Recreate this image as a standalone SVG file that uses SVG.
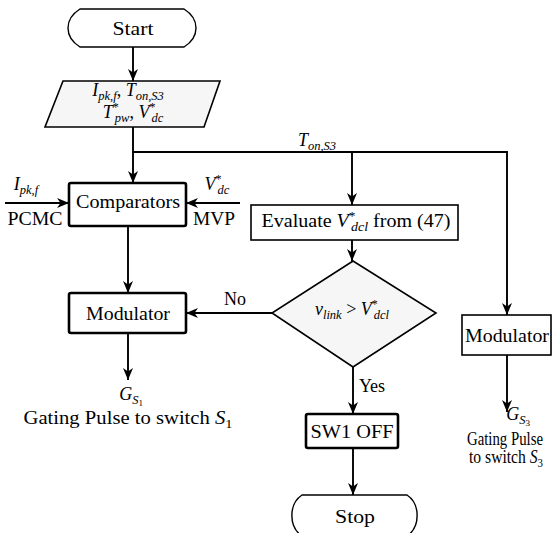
<svg xmlns="http://www.w3.org/2000/svg" width="552" height="533" viewBox="0 0 552 533">
<style>
text{font-family:'Liberation Serif',serif;font-size:18px;fill:#000;text-anchor:middle}
.i{font-style:italic}
.sub{font-size:12.5px;font-style:italic}
.sup{font-size:12px}
.thick{fill:#fff;stroke:#000;stroke-width:2.6}
.thin{fill:#fff;stroke:#000;stroke-width:1.6}
.gray{fill:#f6f6f6;stroke:#000;stroke-width:1.6}
.term{fill:#fff;stroke:#000;stroke-width:1.4}
.c{fill:none;stroke:#000;stroke-width:1.9}
</style>
<defs>
<marker id="arr" viewBox="0 0 12 10" refX="12" refY="5" markerWidth="12" markerHeight="10" markerUnits="userSpaceOnUse" orient="auto">
<path d="M0,0 L12,5 L0,10 L3.5,5 z" fill="#000"/>
</marker>
</defs>

<g id="connectors">
<line class="c" x1="133" y1="47" x2="133" y2="81" marker-end="url(#arr)"/>
<polyline class="c" points="133,127 133,152 507,152 507,315" marker-end="url(#arr)"/>
<line class="c" x1="133" y1="152" x2="133" y2="183" marker-end="url(#arr)"/>
<line class="c" x1="352" y1="152" x2="352" y2="205" marker-end="url(#arr)"/>
<line class="c" x1="5" y1="203" x2="69" y2="203" marker-end="url(#arr)"/>
<line class="c" x1="240" y1="203" x2="186" y2="203" marker-end="url(#arr)"/>
<line class="c" x1="128" y1="226" x2="128" y2="293" marker-end="url(#arr)"/>
<line class="c" x1="128" y1="333" x2="128" y2="380" marker-end="url(#arr)"/>
<line class="c" x1="352" y1="240" x2="352" y2="261" marker-end="url(#arr)"/>
<line class="c" x1="272" y1="313" x2="186" y2="313" marker-end="url(#arr)"/>
<line class="c" x1="353" y1="367" x2="353" y2="414" marker-end="url(#arr)"/>
<line class="c" x1="353" y1="448" x2="353" y2="495" marker-end="url(#arr)"/>
<line class="c" x1="507" y1="355" x2="507" y2="412" marker-end="url(#arr)"/>
<text x="317" y="146"><tspan class="i">T</tspan><tspan class="sub" dy="4">on,S3</tspan></text>
<text x="235" y="305">No</text>
<text x="372" y="392">Yes</text>
</g>

<g id="start">
<path class="term" d="M80,9 L184,9 C200,19 200,37 184,47 L80,47 C64,37 64,19 80,9 Z"/>
<text x="133" y="35" textLength="41" lengthAdjust="spacingAndGlyphs">Start</text>
</g>

<g id="input">
<polygon class="gray" points="63,81 220,81 204,127 45,127"/>
<text x="128" y="96"><tspan class="i">I</tspan><tspan class="sub" dy="4">pk,f</tspan><tspan dy="-4">, </tspan><tspan class="i">T</tspan><tspan class="sub" dy="4">on,S3</tspan></text>
<text x="133" y="118"><tspan class="i">T</tspan><tspan class="sup" dy="-7">*</tspan><tspan class="sub" dx="-4" dy="11">pw</tspan><tspan dy="-4">, </tspan><tspan class="i">V</tspan><tspan class="sup" dy="-7">*</tspan><tspan class="sub" dx="-4" dy="11">dc</tspan></text>
</g>

<g id="comparators">
<rect class="thick" x="69" y="183" width="117" height="43" rx="2"/>
<text x="128" y="208" textLength="104" lengthAdjust="spacingAndGlyphs">Comparators</text>
<text x="26" y="190"><tspan class="i">I</tspan><tspan class="sub" dy="4">pk,f</tspan></text>
<text x="35" y="225" textLength="55" lengthAdjust="spacingAndGlyphs">PCMC</text>
<text x="217" y="190"><tspan class="i">V</tspan><tspan class="sup" dy="-7">*</tspan><tspan class="sub" dx="-4" dy="11">dc</tspan></text>
<text x="214" y="225" textLength="42" lengthAdjust="spacingAndGlyphs">MVP</text>
</g>

<g id="modulator1">
<rect class="thick" x="69" y="293" width="117" height="40" rx="2"/>
<text x="128" y="320" textLength="84" lengthAdjust="spacingAndGlyphs">Modulator</text>
<text x="131" y="400"><tspan class="i">G</tspan><tspan class="sub" dy="4">S</tspan><tspan font-size="9" dy="2">1</tspan></text>
<text x="128" y="424" textLength="209" lengthAdjust="spacingAndGlyphs">Gating Pulse to switch <tspan class="i">S</tspan><tspan font-size="12.5" dy="4">1</tspan></text>
</g>

<g id="evaluate">
<rect class="thin" x="251" y="205" width="207" height="35"/>
<text x="356" y="227" textLength="189" lengthAdjust="spacingAndGlyphs">Evaluate <tspan class="i">V</tspan><tspan class="sup" dy="-7">*</tspan><tspan class="sub" dx="-4" dy="11">dcl</tspan><tspan dy="-4"> from (47)</tspan></text>
</g>

<g id="decision">
<polygon class="gray" points="353,261 436,313 353,367 272,313"/>
<text x="352" y="315"><tspan class="i">v</tspan><tspan class="sub" dy="4">link</tspan><tspan dy="-4"> &gt; </tspan><tspan class="i">V</tspan><tspan class="sup" dy="-7">*</tspan><tspan class="sub" dx="-4" dy="11">dcl</tspan></text>
</g>

<g id="sw1off">
<rect class="thick" x="306" y="414" width="92" height="34" rx="2"/>
<text x="352" y="438" textLength="83" lengthAdjust="spacingAndGlyphs">SW1 OFF</text>
</g>

<g id="stop">
<path class="term" d="M302,495 L407,495 C420.5,504 420.5,527 407,536 L302,536 C288.5,527 288.5,504 302,495 Z"/>
<text x="355" y="523" textLength="40" lengthAdjust="spacingAndGlyphs">Stop</text>
</g>

<g id="modulator2">
<rect class="thin" x="462" y="315" width="89" height="40"/>
<text x="507" y="342" textLength="84" lengthAdjust="spacingAndGlyphs">Modulator</text>
<text x="518" y="420"><tspan class="i">G</tspan><tspan class="sub" dy="4">S</tspan><tspan font-size="9" dy="2">3</tspan></text>
<text x="505" y="445" textLength="76" lengthAdjust="spacingAndGlyphs">Gating Pulse</text>
<text x="506" y="463" textLength="74" lengthAdjust="spacingAndGlyphs">to switch <tspan class="i">S</tspan><tspan font-size="12.5" dy="4">3</tspan></text>
</g>
</svg>
